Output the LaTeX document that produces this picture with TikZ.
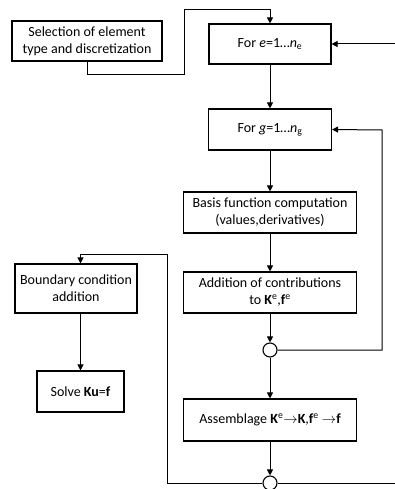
\documentclass[tikz,border=0pt]{standalone}
\usepackage{fontspec}
\setmainfont{Carlito}
\usetikzlibrary{arrows.meta}
\begin{document}
\begin{tikzpicture}[x=1pt,y=-1pt,
  box/.style={draw,line width=1.1pt,align=center,inner sep=0pt,font=\fontsize{14}{17}\selectfont},
  junction/.style={draw,line width=1.1pt,circle,minimum size=14pt,inner sep=0pt,fill=white},
  flow/.style={line width=1pt,-{Triangle[length=6pt,width=6pt]}}]
\useasboundingbox (0,0) rectangle (395,489);
\clip (0,0) rectangle (395,489);
% process boxes
\node[box,minimum width=150pt,minimum height=40pt] (sel) at (87,41) {Selection of element\\type and discretization};
\node[box,minimum width=122pt,minimum height=40pt] (fe) at (270,44) {For \textit{e}=1…\textit{n}\textsubscript{e}};
\node[box,minimum width=123pt,minimum height=41pt] (fg) at (270,129.5) {For \textit{g}=1…\textit{n}\textsubscript{g}};
\node[box,minimum width=173pt,minimum height=41pt] (basis) at (270,212.5) {Basis function computation\\(values,derivatives)};
\node[box,minimum width=173pt,minimum height=41pt] (add) at (270,292.5) {Addition of contributions\\to \textbf{K}\textsuperscript{e},\textbf{f}\textsuperscript{e}};
\node[junction] (c1) at (270,350) {};
\node[box,minimum width=173pt,minimum height=42pt] (asm) at (270,420) {Assemblage \textbf{K}\textsuperscript{e}$\rightarrow$\textbf{K},\textbf{f}\textsuperscript{e} $\rightarrow$\textbf{f}};
\node[junction] (c2) at (270,483) {};
\node[box,minimum width=122pt,minimum height=49pt] (bc) at (76,288.5) {Boundary condition\\addition};
\node[box,minimum width=87pt,minimum height=41pt] (sv) at (80.5,391.5) {Solve \textbf{Ku}=\textbf{f}};
% main flow
\draw[flow] (sel.south) |- (184,75) |- (270,10) -- (fe.north);
\draw[flow] (fe.south) -- (fg.north);
\draw[flow] (fg.south) -- (basis.north);
\draw[flow] (basis.south) -- (add.north);
\draw[flow] (add.south) -- (c1.north);
\draw[flow] (c1.south) -- (asm.north);
\draw[flow] (asm.south) -- (c2.north);
% loops
\draw[flow] (c1.east) -| (382,130) -- (fg.east);
\draw[flow] (c2.east) -| (402,44) -- (fe.east);
\coordinate (bctop) at (bc.north -| sv.north);
\draw[flow] (c2.west) -| (167,254) -| (bctop);
\draw[flow] (bc.south -| sv.north) -- (sv.north);
\end{tikzpicture}
\end{document}
